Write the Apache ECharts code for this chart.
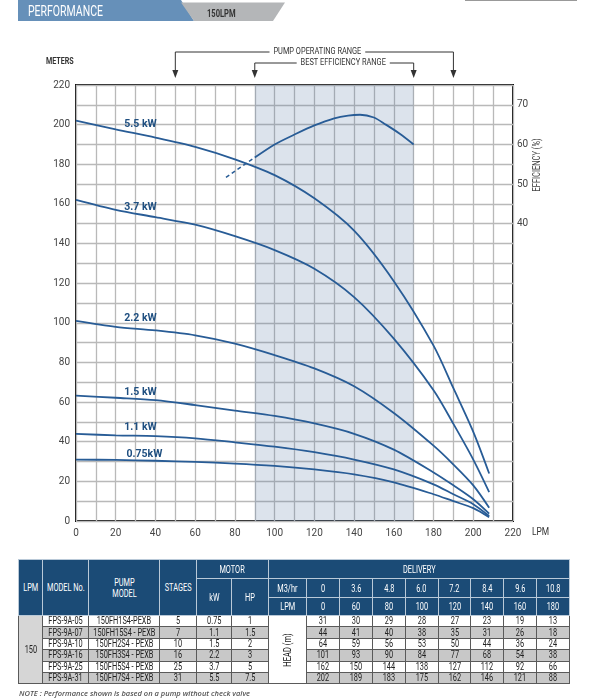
<!DOCTYPE html>
<html lang="en">
<head>
<meta charset="UTF-8" />
<meta name="viewport" content="width=device-width, initial-scale=1.0" />
<title>Performance 150LPM</title>
<style>
    * {
        box-sizing: border-box;
        margin: 0;
        padding: 0;
    }
    body {
        width: 597px;
        height: 700px;
        background: #fff;
        position: relative;
        overflow: hidden;
        font-family: Roboto, sans-serif;
    }
    #chart {
        position: absolute;
        left: 0;
        top: 0;
        width: 597px;
        height: 700px;
    }
    .spec {
        position: absolute;
        left: 18px;
        top: 559px;
        width: 551px;
        table-layout: fixed;
        border-collapse: collapse;
        font-size: 10.5px;
        text-align: center;
    }
    .spec th,
    .spec td {
        padding: 0;
        overflow: visible;
        white-space: nowrap;
    }
    .spec th {
        background: #1b4b76;
        color: #fff;
        font-weight: normal;
        border: 1px solid #b9c9d8;
        line-height: 11px;
    }
    .spec td {
        border: 1px solid #5a5a5a;
        color: #222;
        line-height: 10px;
        background: #fff;
    }
    .spec .c {
        display: flex;
        justify-content: center;
        align-items: center;
    }
    .spec .c span {
        display: inline-block;
        transform: scaleX(0.7);
    }
    .spec tr.alt td {
        background: #c8c8c8;
    }
    .spec td.lpm {
        background: #d6d6d6;
    }
    .spec td.head {
        background: #fff;
    }
    .spec td.head span {
        transform: rotate(-90deg) scaleX(0.72);
    }
    .note {
        position: absolute;
        left: 19px;
        top: 688px;
        font-family: 'Open Sans', sans-serif;
        font-style: italic;
        font-weight: 600;
        font-size: 7.5px;
        color: #555;
    }
</style>
</head>
<body>
<div id="chart"></div>
<table class="spec" id="spec"></table>
<div class="note">NOTE : Performance shown is based on a pump without check valve</div>

<script src="https://cdn.jsdelivr.net/npm/echarts@6/dist/echarts.min.js"></script>
<script>
    // curve readings (LPM -> meters)
    var flow = [0, 20, 40, 60, 80, 100, 120, 140, 160, 180, 190, 200, 208]
    var head55 = [202, 197.6, 193.5, 188.8, 182.5, 174.5, 162.8, 146.5, 121, 88.5, 67, 45, 24]
    var head37 = [162, 157, 153.3, 149.5, 143.7, 136.7, 127.3, 113, 92, 66, 49, 31, 14.6]
    var head22 = [101, 98, 96.2, 93.7, 89.5, 83.7, 77, 68, 54.5, 38, 28.5, 18, 6.7]
    var head15 = [63.3, 62.2, 61, 58.5, 55.7, 53, 49.2, 44, 36, 24.5, 18, 11, 3.7]
    var head11 = [44, 43.2, 42.8, 41.7, 39.7, 37.5, 34.7, 31, 26, 18.5, 13.5, 8.5, 2.5]
    var head075 = [31, 30.8, 30.4, 29.8, 29, 27.8, 26, 23.5, 19.5, 13.5, 10, 6.5, 1.9]
    var curveNames = ['5.5 kW', '3.7 kW', '2.2 kW', '1.5 kW', '1.1 kW', '0.75kW']

    // efficiency (%)
    var effFlow = [90, 100, 110, 120, 130, 137, 143, 150, 156, 163, 170]
    var effValue = [56.7, 60.0, 62.5, 64.8, 66.6, 67.3, 67.5, 66.8, 65.0, 62.7, 60.0]
    var effDashFlow = [75.5, 90]
    var effDashValue = [51.7, 56.7]

    // ranges (LPM)
    var operatingRange = [50, 190]
    var bestRange = [90, 170]

    // tick labels
    var xTickLabels = [0, 20, 40, 60, 80, 100, 120, 140, 160, 180, 200, 220]
    var yTickLabels = [0, 20, 40, 60, 80, 100, 120, 140, 160, 180, 200, 220]
    var effTickLabels = [40, 50, 60, 70]

    // table
    var tableLpm = '150'
    var tableModels = ['FPS-9A-05', 'FPS-9A-07', 'FPS-9A-10', 'FPS-9A-16', 'FPS-9A-25', 'FPS-9A-31']
    var pumpModels = ['150FH1S4-PEXB', '150FH15S4 - PEXB', '150FH2S4 - PEXB', '150FH3S4 - PEXB', '150FH5S4 - PEXB', '150FH7S4 - PEXB']
    var stages = ['5', '7', '10', '16', '25', '31']
    var motorKw = ['0.75', '1.1', '1.5', '2.2', '3.7', '5.5']
    var motorHp = ['1', '1.5', '2', '3', '5', '7.5']
    var m3hr = ['0', '3.6', '4.8', '6.0', '7.2', '8.4', '9.6', '10.8']
    var lpmCols = ['0', '60', '80', '100', '120', '140', '160', '180']
    var tableHeads = [
        [31, 30, 29, 28, 27, 23, 19, 13],
        [44, 41, 40, 38, 35, 31, 26, 18],
        [64, 59, 56, 53, 50, 44, 36, 24],
        [101, 93, 90, 84, 77, 68, 54, 38],
        [162, 150, 144, 138, 127, 112, 92, 66],
        [202, 189, 183, 175, 162, 146, 121, 88]
    ]

    var FONT = 'Roboto, sans-serif'
    var LINE = '#285c96'

    function zip(xs, ys) {
        return xs.map(function (x, i) {
            return [x, ys[i]]
        })
    }

    // label offsets next to each curve (px, relative to the 40 LPM point)
    var labelOffset = [[-15, -13], [-15, -10], [-15, -12], [-15, -8], [-15, -9], [-11, -6]]

    var heads = [head55, head37, head22, head15, head11, head075]
    var series = heads.map(function (h, i) {
        var s = {
            type: 'line',
            name: curveNames[i],
            data: zip(flow, h),
            smooth: 0.3,
            symbol: 'none',
            lineStyle: { color: LINE, width: 1.8 },
            z: 3,
            markPoint: {
                symbol: 'circle',
                symbolSize: 0,
                silent: true,
                data: [{
                    coord: [flow[2], h[2]],
                    label: {
                        show: true,
                        formatter: curveNames[i],
                        offset: labelOffset[i],
                        color: '#1f4f80',
                        fontFamily: FONT,
                        fontWeight: 'bold',
                        fontSize: 10.5
                    }
                }]
            }
        }
        if (i === 0) {
            s.markArea = {
                silent: true,
                itemStyle: { color: 'rgba(80,115,160,0.2)' },
                data: [[{ xAxis: bestRange[0] }, { xAxis: bestRange[1] }]]
            }
        }
        return s
    })

    series.push({
        type: 'line',
        data: zip(effFlow, effValue),
        yAxisIndex: 1,
        smooth: 0.3,
        symbol: 'none',
        lineStyle: { color: LINE, width: 1.8 },
        z: 3
    })
    series.push({
        type: 'line',
        data: zip(effDashFlow, effDashValue),
        yAxisIndex: 1,
        symbol: 'none',
        lineStyle: { color: LINE, width: 1.5, type: [4, 3] },
        z: 3
    })

    var axisText = { color: '#444', fontFamily: FONT, fontSize: 10 }

    var chart = echarts.init(document.getElementById('chart'))
    chart.setOption({
        animation: false,
        grid: {
            left: 76,
            top: 85,
            right: 84,
            bottom: 179,
            show: true,
            borderColor: '#111',
            borderWidth: 2,
            backgroundColor: 'transparent'
        },
        xAxis: {
            type: 'value',
            min: 0,
            max: 220,
            interval: 10,
            axisLine: { show: false },
            axisTick: { show: false },
            axisLabel: Object.assign({
                margin: 7,
                formatter: function (v) {
                    return xTickLabels.indexOf(v) >= 0 ? v : ''
                }
            }, axisText),
            splitLine: { lineStyle: { color: '#b9b9b9', width: 1.3 } }
        },
        yAxis: [
            {
                type: 'value',
                min: 0,
                max: 220,
                interval: 10,
                axisLine: { show: false },
                axisTick: { show: false },
                axisLabel: Object.assign({
                    margin: 6,
                    formatter: function (v) {
                        return yTickLabels.indexOf(v) >= 0 ? v : ''
                    }
                }, axisText),
                splitLine: { lineStyle: { color: '#b9b9b9', width: 1.3 } }
            },
            {
                type: 'value',
                position: 'right',
                min: -35,
                max: 75,
                interval: 5,
                axisLine: { show: false },
                axisTick: { show: false },
                splitLine: { show: false },
                axisLabel: Object.assign({
                    margin: 4,
                    formatter: function (v) {
                        return effTickLabels.indexOf(v) >= 0 ? v : ''
                    }
                }, axisText)
            }
        ],
        series: series
    })

    // header band, range brackets and axis titles
    function px(v) {
        return chart.convertToPixel({ xAxisIndex: 0 }, v)
    }
    function bracket(range, y, text, textShift) {
        var x1 = px(range[0])
        var x2 = px(range[1])
        var tip = 78
        var line = { stroke: '#333', lineWidth: 1 }
        return [
            { type: 'polyline', shape: { points: [[x1, tip - 6], [x1, y], [x2, y], [x2, tip - 6]] }, style: line },
            { type: 'polygon', shape: { points: [[x1 - 3, tip - 8], [x1 + 3, tip - 8], [x1, tip]] }, style: { fill: '#333' } },
            { type: 'polygon', shape: { points: [[x2 - 3, tip - 8], [x2 + 3, tip - 8], [x2, tip]] }, style: { fill: '#333' } },
            {
                type: 'text',
                x: (x1 + x2) / 2 + textShift,
                y: y,
                scaleX: 0.78,
                style: {
                    text: text,
                    fill: '#333',
                    font: '9.5px ' + FONT,
                    textAlign: 'center',
                    textVerticalAlign: 'middle',
                    backgroundColor: '#fff',
                    padding: [0, 5]
                }
            }
        ]
    }

    var graphic = [
        { type: 'polygon', shape: { points: [[18, 0], [181, 0], [194, 21], [18, 21]] }, style: { fill: '#6690b9' } },
        { type: 'polygon', shape: { points: [[181, 2.5], [285, 2.5], [273, 21], [194, 21]] }, style: { fill: '#b4b6b8' } },
        { type: 'line', shape: { x1: 465, y1: 0.5, x2: 577, y2: 0.5 }, style: { stroke: '#999', lineWidth: 1 } },
        {
            type: 'text', x: 28, y: 12.5, scaleX: 0.7,
            style: { text: 'PERFORMANCE', fill: '#fff', font: '15px ' + FONT, textVerticalAlign: 'middle' }
        },
        {
            type: 'text', x: 207, y: 14, scaleX: 0.72,
            style: { text: '150LPM', fill: '#333', font: 'bold 10.5px ' + FONT, textVerticalAlign: 'middle' }
        },
        {
            type: 'text', x: 46, y: 62, scaleX: 0.75,
            style: { text: 'METERS', fill: '#333', font: 'bold 9.5px ' + FONT, textVerticalAlign: 'middle' }
        },
        {
            type: 'text', x: 532, y: 532, scaleX: 0.8,
            style: { text: 'LPM', fill: '#333', font: '10.5px ' + FONT, textVerticalAlign: 'middle' }
        },
        {
            type: 'text', x: 537, y: 165, rotation: Math.PI / 2, scaleX: 0.75,
            style: { text: 'EFFICIENCY (%)', fill: '#444', font: '10px ' + FONT, textAlign: 'center', textVerticalAlign: 'middle' }
        }
    ]
    graphic = graphic.concat(bracket(operatingRange, 52, 'PUMP OPERATING RANGE', 3))
    graphic = graphic.concat(bracket(bestRange, 63, 'BEST EFFICIENCY RANGE', 9))
    chart.setOption({ graphic: graphic })

    // spec table
    function txt(s) {
        return '<div class="c"><span>' + s + '</span></div>'
    }
    function buildTable() {
        var widths = [24.4, 45.6, 71, 36.7, 35.7, 36.6, 38.4]
        lpmCols.forEach(function () {
            widths.push(32.8)
        })
        var html = '<colgroup>' + widths.map(function (w) {
            return '<col style="width:' + w + 'px">'
        }).join('') + '</colgroup>'

        html += '<tr style="height:19px">' +
            '<th rowspan="3">' + txt('LPM') + '</th><th rowspan="3">' + txt('MODEL No.') + '</th>' +
            '<th rowspan="3"><div class="c"><span>PUMP<br>MODEL</span></div></th><th rowspan="3">' + txt('STAGES') + '</th>' +
            '<th colspan="2">' + txt('MOTOR') + '</th><th colspan="' + (lpmCols.length + 1) + '">' + txt('DELIVERY') + '</th></tr>'
        html += '<tr style="height:19px"><th rowspan="2">' + txt('kW') + '</th><th rowspan="2">' + txt('HP') + '</th><th>' + txt('M3/hr') + '</th>' +
            m3hr.map(function (v) { return '<th>' + txt(v) + '</th>' }).join('') + '</tr>'
        html += '<tr style="height:18px"><th>' + txt('LPM') + '</th>' +
            lpmCols.map(function (v) { return '<th>' + txt(v) + '</th>' }).join('') + '</tr>'

        tableModels.forEach(function (m, i) {
            html += '<tr class="' + (i % 2 ? 'alt' : '') + '" style="height:11.4px">'
            if (i === 0) html += '<td class="lpm" rowspan="' + tableModels.length + '">' + txt(tableLpm) + '</td>'
            html += '<td>' + txt(m) + '</td><td>' + txt(pumpModels[i]) + '</td><td>' + txt(stages[i]) + '</td>' +
                '<td>' + txt(motorKw[i]) + '</td><td>' + txt(motorHp[i]) + '</td>'
            if (i === 0) html += '<td class="head" rowspan="' + tableModels.length + '">' + txt('HEAD (m)') + '</td>'
            html += tableHeads[i].map(function (v) { return '<td>' + txt(v) + '</td>' }).join('')
            html += '</tr>'
        })
        document.getElementById('spec').innerHTML = html
    }
    buildTable()
</script>
</body>
</html>
